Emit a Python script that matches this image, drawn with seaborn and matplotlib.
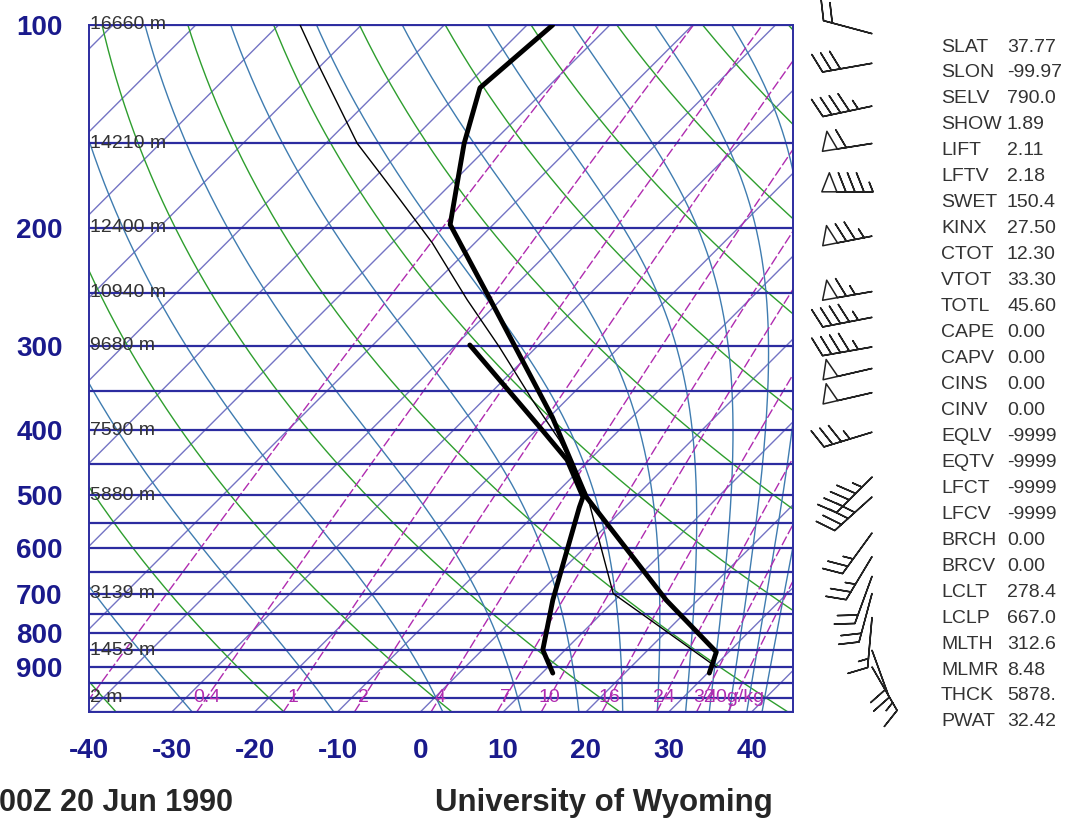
import numpy as np
import pandas as pd
import matplotlib
matplotlib.use("Agg")
import matplotlib.pyplot as plt
import seaborn as sns

# ---- sounding data ----
temp_pres = [919, 855, 716, 503, 383, 256, 198, 168, 150, 124, 100]
temp_vals = [30.2, 28.5, 16.2, -5.9, -19.6, -41.3, -55.2, -60.0, -63.3, -68.1, -66.9]

dwpt_pres = [919, 849, 716, 521, 503, 443, 400, 299]
dwpt_vals = [11.3, 7.3, 2.5, -5.5, -6.3, -12.7, -19.3, -38.3]

parcel_pres = [900, 700, 500, 414, 361, 301, 256, 211, 182, 166, 150, 115, 100]
parcel_vals = [30.3, 9.0, -6.0, -16.0, -24.1, -34.5, -44.1, -55.1, -64.2, -69.9, -76.2, -90.2, -97.4]

# winds: pressure, direction (deg from), speed (kt)
wind_pres = [103, 114, 132, 150, 177, 206, 249, 272, 301, 324, 352, 403, 470, 503, 569, 617, 660, 700, 760, 850, 900]
wind_dir = [285, 260, 258, 261, 270, 259, 260, 259, 260, 257, 257, 253, 225, 228, 216, 211, 200, 195, 185, 160, 150]
wind_spd = [20, 30, 45, 60, 85, 75, 65, 45, 45, 50, 50, 35, 45, 40, 25, 25, 20, 20, 15, 20, 15]

# height labels on isobars
hgt_pres = [100, 150, 200, 250, 300, 400, 500, 700, 850, 1000]
hgt_text = ["16660 m", "14210 m", "12400 m", "10940 m", "9680 m", "7590 m", "5880 m", "3139 m", "1453 m", "2 m"]

# station indices
idx_names = ["SLAT", "SLON", "SELV", "SHOW", "LIFT", "LFTV", "SWET", "KINX", "CTOT", "VTOT", "TOTL",
             "CAPE", "CAPV", "CINS", "CINV", "EQLV", "EQTV", "LFCT", "LFCV", "BRCH", "BRCV", "LCLT",
             "LCLP", "MLTH", "MLMR", "THCK", "PWAT"]
idx_vals = ["37.77", "-99.97", "790.0", "1.89", "2.11", "2.18", "150.4", "27.50", "12.30", "33.30", "45.60",
            "0.00", "0.00", "0.00", "0.00", "-9999", "-9999", "-9999", "-9999", "0.00", "0.00", "278.4",
            "667.0", "312.6", "8.48", "5878.", "32.42"]

# background line families
isobar_levels = list(range(100, 1051, 50))
isotherm_levels = list(range(-130, 50, 10))
dry_theta = [233.15 + 20 * k for k in range(13)]
moist_thetae = [243.15 + 20 * k for k in range(12)]
mixr_levels = [0.1, 0.4, 1, 2, 4, 7, 10, 16, 24, 32, 40]
mixr_labels = ["", "0.4", "1", "2", "4", "7", "10", "16", "24", "32", "40g/kg"]
xtick_vals = [-40, -30, -20, -10, 0, 10, 20, 30, 40]
ytick_vals = [100, 200, 300, 400, 500, 600, 700, 800, 900]

SKEW = 35.25
P_BOT, P_TOP = 1050.0, 100.0


def skew_x(t, p):
    return np.asarray(t, float) + SKEW * np.log(P_BOT / np.asarray(p, float))


def sat_vp(t):
    return 6.112 * np.exp(17.67 * t / (t + 243.5))


def theta_e(t, p):
    es = np.minimum(sat_vp(t), 0.9 * p)
    rs = 0.622 * es / (p - es)
    tk = t + 273.15
    return tk * (1000.0 / p) ** 0.2857 * np.exp(2.5e6 * rs / (1004.0 * tk))


def moist_temp(te, p):
    lo = np.full_like(p, -170.0)
    hi = np.full_like(p, 60.0)
    for _ in range(60):
        mid = 0.5 * (lo + hi)
        up = theta_e(mid, p) > te
        hi = np.where(up, mid, hi)
        lo = np.where(up, lo, mid)
    return 0.5 * (lo + hi)


def mixr_dewpt(r, p):
    e = r * p / (622.0 + r)
    a = np.log(e / 6.112)
    return 243.5 * a / (17.67 - a)


W, H = 1081, 823
fig = plt.figure(figsize=(W / 100, H / 100), dpi=100)
sns.set_style("white")
plt.rcParams["font.family"] = ["Liberation Sans", "DejaVu Sans"]

L, R, T, B = 89, 793, 25, 712
ax = fig.add_axes([L / W, 1 - B / H, (R - L) / W, (B - T) / H])
ax.set_yscale("log")
ax.set_ylim(P_BOT, P_TOP)
ax.set_xlim(-40, 45)

pp = np.geomspace(P_BOT, P_TOP, 300)

for t in isotherm_levels:
    ax.plot(skew_x(np.full_like(pp, t), pp), pp, color="#7474c4", lw=1.0, zorder=1)
for th in dry_theta:
    tt = th * (pp / 1000.0) ** 0.2857 - 273.15
    ax.plot(skew_x(tt, pp), pp, color="#2e9e2e", lw=1.0, zorder=1)
for te in moist_thetae:
    tt = moist_temp(te, pp)
    ax.plot(skew_x(tt, pp), pp, color="#3f7cb0", lw=1.0, zorder=1)
for r, lab in zip(mixr_levels, mixr_labels):
    tt = mixr_dewpt(r, pp)
    ax.plot(skew_x(tt, pp), pp, color="#b02cb0", lw=1.0, dashes=(7, 2), zorder=1)
    if lab:
        ax.text(skew_x(mixr_dewpt(r, 1000.0), 1000.0), 1000, lab, color="#b02cb0",
                fontsize=14, ha="center", va="center", zorder=3)
for p in isobar_levels:
    ax.axhline(p, color="#2c2ca0", lw=1.6, zorder=2)

for p, s in zip(hgt_pres, hgt_text):
    ax.text(-39.9, p, s, fontsize=14, color="#333333", ha="left", va="center", zorder=3)

# profiles with seaborn
temp_df = pd.DataFrame({"p": temp_pres, "x": skew_x(temp_vals, temp_pres)})
dwpt_df = pd.DataFrame({"p": dwpt_pres, "x": skew_x(dwpt_vals, dwpt_pres)})
parc_df = pd.DataFrame({"p": parcel_pres, "x": skew_x(parcel_vals, parcel_pres)})
sns.lineplot(data=parc_df, x="x", y="p", sort=False, estimator=None, color="black", lw=1.0, ax=ax, zorder=4)
sns.lineplot(data=temp_df, x="x", y="p", sort=False, estimator=None, color="black", lw=3.5, ax=ax, zorder=5)
sns.lineplot(data=dwpt_df, x="x", y="p", sort=False, estimator=None, color="black", lw=3.5, ax=ax, zorder=5)
ax.set_ylim(P_BOT, P_TOP)
ax.set_xlim(-40, 45)

ax.set_xlabel("")
ax.set_ylabel("")
ax.yaxis.set_minor_locator(matplotlib.ticker.NullLocator())
ax.set_yticks(ytick_vals)
ax.set_yticklabels([str(v) for v in ytick_vals])
ax.set_xticks(xtick_vals)
ax.set_xticklabels([str(v) for v in xtick_vals])
ax.tick_params(axis="both", length=0, labelsize=20, labelcolor="#1a1a8c")
for lab in ax.get_xticklabels() + ax.get_yticklabels():
    lab.set_fontweight("bold")
ax.tick_params(axis="y", pad=19)
ax.tick_params(axis="x", pad=19)
for s in ax.spines.values():
    s.set_color("#2c2ca0")
    s.set_linewidth(1.4)

# wind barbs
axb = fig.add_axes([800 / W, 1 - B / H, 100 / W, (B - T) / H])
axb.set_yscale("log")
axb.set_ylim(P_BOT, P_TOP)
axb.set_xlim(0, 1)
axb.axis("off")
d = np.deg2rad(wind_dir)
u = -np.asarray(wind_spd) * np.sin(d)
v = -np.asarray(wind_spd) * np.cos(d)
axb.barbs(np.full(len(wind_pres), 0.72), wind_pres, u, v, length=8.5, barbcolor="#222222",
          flagcolor="white", linewidth=1.1, clip_on=False,
          sizes=dict(spacing=0.18, height=0.38, width=0.3))

# indices panel
for i, (n, val) in enumerate(zip(idx_names, idx_vals)):
    y = 1 - (47 + 25.96 * i) / H
    fig.text(941 / W, y, n, fontsize=14, color="#333333", ha="left", va="center")
    fig.text(1007 / W, y, val, fontsize=14, color="#333333", ha="left", va="center")

fig.text(233 / W, 1 - 803 / H, "00Z 20 Jun 1990", fontsize=22, fontweight="bold", ha="right", va="center")
fig.text(604 / W, 1 - 803 / H, "University of Wyoming", fontsize=22.5, fontweight="bold", ha="center", va="center")

fig.savefig("out.png", dpi=100, facecolor="white")
